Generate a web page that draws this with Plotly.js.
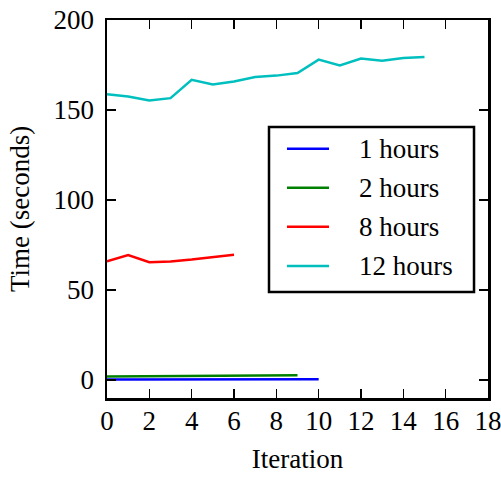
<!DOCTYPE html>
<html>
<head>
<meta charset="utf-8">
<script src="https://cdn.plot.ly/plotly-3.0.1.min.js"></script>
<style>
  html, body { margin: 0; padding: 0; background: #fff; }
  #chart { width: 501px; height: 478px; }
</style>
</head>
<body>
<div id="chart"></div>
<script>
// Run time per iteration for each time window
const seriesNames = ["1 hours", "2 hours", "8 hours", "12 hours"];
const seriesColors = ["#0000ff", "#008000", "#ff0000", "#00bfbf"];

const iter1h = [0, 1, 2, 3, 4, 5, 6, 7, 8, 9, 10];
const time1h = [0.3, 0.3, 0.3, 0.3, 0.3, 0.3, 0.3, 0.35, 0.35, 0.4, 0.4];

const iter2h = [0, 1, 2, 3, 4, 5, 6, 7, 8, 9];
const time2h = [2.0, 2.1, 2.1, 2.2, 2.3, 2.3, 2.4, 2.5, 2.5, 2.6];

const iter8h = [0, 1, 2, 3, 4, 5, 6];
const time8h = [65.9, 69.4, 65.4, 65.9, 66.9, 68.3, 69.6];

const iter12h = [0, 1, 2, 3, 4, 5, 6, 7, 8, 9, 10, 11, 12, 13, 14, 15];
const time12h = [158.8, 157.5, 155.3, 156.6, 166.8, 164.2, 165.8, 168.3, 169.1, 170.5,
                 178.0, 174.7, 178.6, 177.3, 178.9, 179.5];

const xTicks = [0, 2, 4, 6, 8, 10, 12, 14, 16, 18];
const yTicks = [0, 50, 100, 150, 200];

const xs = [iter1h, iter2h, iter8h, iter12h];
const ys = [time1h, time2h, time8h, time12h];

const traces = seriesNames.map((name, i) => ({
  x: xs[i],
  y: ys[i],
  name: name,
  type: "scatter",
  mode: "lines",
  line: { color: seriesColors[i], width: 2.5 },
  showlegend: false
}));

const font = { family: "Liberation Serif, Times New Roman, serif", size: 27, color: "#000" };

// Legend box drawn in paper coordinates, one row per series
const legBox = { x0: 0.4252, x1: 0.9633, y0: 0.2804, y1: 0.7169 };
const legLineX = [0.4724, 0.5827];
const legTextX = 0.6562;
const legRowY = [0.6595, 0.5563, 0.4532, 0.3492];

const shapes = [{
  type: "rect", xref: "paper", yref: "paper",
  x0: legBox.x0, x1: legBox.x1, y0: legBox.y0, y1: legBox.y1,
  line: { color: "#000", width: 2.5 }, fillcolor: "#fff", layer: "above"
}].concat(seriesNames.map((n, i) => ({
  type: "line", xref: "paper", yref: "paper",
  x0: legLineX[0], x1: legLineX[1], y0: legRowY[i], y1: legRowY[i],
  line: { color: seriesColors[i], width: 2.5 }, layer: "above"
})));

const annotations = seriesNames.map((n, i) => ({
  xref: "paper", yref: "paper", x: legTextX, y: legRowY[i],
  xanchor: "left", yanchor: "middle", text: n, showarrow: false, font: font
}));

const axisCommon = {
  showgrid: false,
  zeroline: false,
  showline: true,
  linecolor: "#000",
  linewidth: 2.5,
  mirror: "ticks",
  ticks: "inside",
  ticklen: 9,
  tickwidth: 1.3,
  tickcolor: "#000",
  tickfont: font
};

const layout = {
  width: 501,
  height: 478,
  margin: { l: 107, r: 13, t: 20, b: 80 },
  paper_bgcolor: "#fff",
  plot_bgcolor: "#fff",
  font: font,
  showlegend: false,
  shapes: shapes,
  annotations: annotations,
  xaxis: Object.assign({}, axisCommon, {
    range: [0, 18],
    tickvals: xTicks,
    ticktext: xTicks.map(String),
    ticklabelstandoff: -3,
    ticklabeloverflow: "allow",
    title: { text: "Iteration", font: font, standoff: 14 }
  }),
  yaxis: Object.assign({}, axisCommon, {
    range: [-10, 200],
    tickvals: yTicks,
    ticktext: yTicks.map(String),
    ticklabelstandoff: 5,
    title: { text: "Time (seconds)", font: font, standoff: 16 }
  })
};

Plotly.newPlot("chart", traces, layout, { displayModeBar: false, staticPlot: true });
</script>
</body>
</html>
